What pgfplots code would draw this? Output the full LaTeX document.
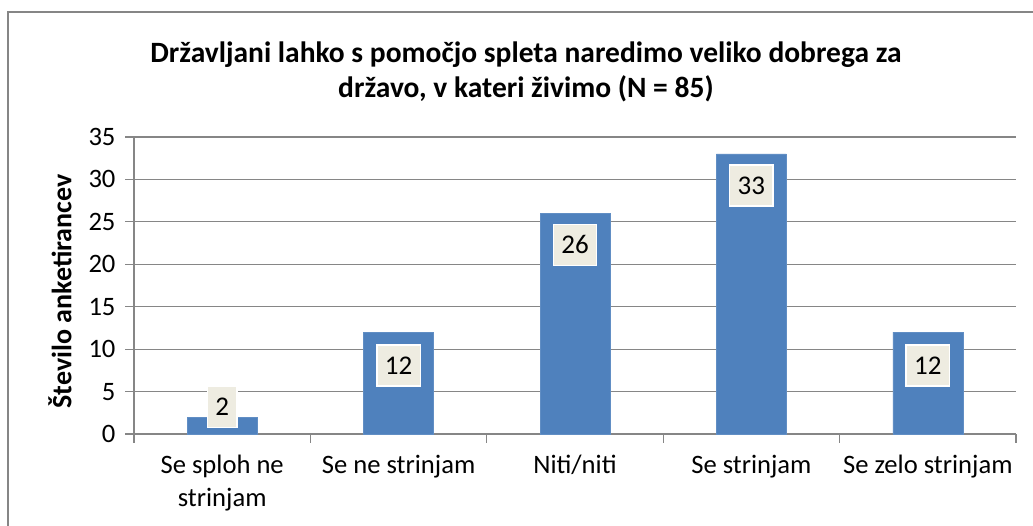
\documentclass[border=0pt]{standalone}
\usepackage{pgfplots}
\pgfplotsset{compat=1.18}
\usepackage{fontspec}
\setmainfont{Carlito}
\definecolor{barblue}{HTML}{4F81BD}
\definecolor{axgray}{HTML}{868686}
\definecolor{lblfill}{HTML}{EEECE1}
\begin{document}
\begin{tikzpicture}
\path[use as bounding box, clip] (0,0) rectangle (1033pt,526pt);
\draw[axgray, line width=1.5pt] (8pt,-20pt) rectangle (1050pt,514pt);
\begin{axis}[
  at={(134pt,92pt)}, anchor=south west,
  scale only axis, width=882pt, height=297pt,
  xmin=-0.5, xmax=4.5, ymin=0, ymax=35,
  ytick={0,5,...,35},
  xtick={-0.5,0.5,...,4.5}, xticklabels={},
  extra x ticks={0,1,2,3,4},
  extra x tick labels={{Se sploh ne\\strinjam},{Se ne strinjam},{Niti/niti},{Se strinjam},{Se zelo strinjam}},
  extra x tick style={major tick length=0pt, grid=none},
  axis line style={axgray, line width=1.2pt},
  tick style={axgray, line width=1.2pt},
  major tick length=9pt,
  tick align=outside,
  ymajorgrids, grid style={axgray, line width=1.2pt},
  axis x line*=bottom, axis y line*=left,
  /pgf/number format/assume math mode=true,
  tick label style={font=\fontsize{26.6}{33}\selectfont},
  yticklabel style={xshift=-6pt},
  xticklabel style={align=center, yshift=-18pt},
  ylabel={Število anketirancev},
  ylabel style={at={(axis description cs:-0.0839,0.48)}, anchor=center, font=\fontsize{28}{30}\selectfont\bfseries},
  title={Državljani lahko s pomočjo spleta naredimo veliko dobrega za\\državo, v kateri živimo (N = 85)},
  title style={at={(axis description cs:0.4444,1)}, anchor=south, yshift=25pt, align=center, font=\fontsize{29.5}{35}\selectfont\bfseries},
  clip=false,
]
\addplot[ybar, bar width=70pt, fill=barblue, draw=barblue!90!white, bar shift=0pt]
  coordinates {(0,2) (1,12) (2,26) (3,33) (4,12)};
\addplot[draw=none, mark=none, nodes near coords, point meta=explicit symbolic,
  every node near coord/.style={anchor=center, fill=lblfill, draw=white, line width=1.5pt,
    inner xsep=8pt, inner ysep=0pt, minimum height=41pt, font=\fontsize{27}{30}\selectfont}]
  table[meta=label] {
x y label
0 3.2 2
1 8.1 12
2 22.3 26
3 29.3 33
4 8.1 12
};
\end{axis}
\end{tikzpicture}
\end{document}
